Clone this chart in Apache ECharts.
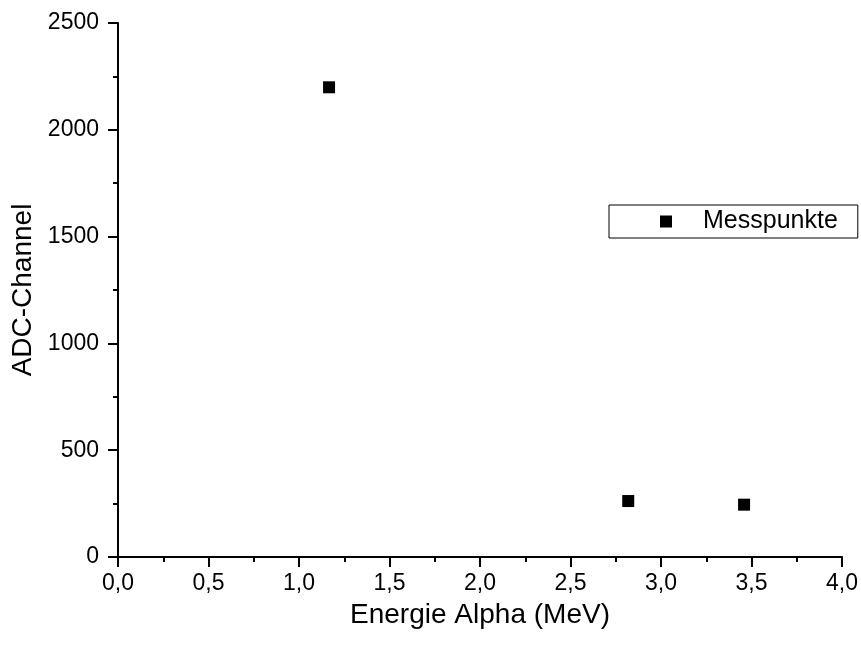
<!DOCTYPE html>
<html>
<head>
<meta charset="utf-8">
<script src="https://cdn.jsdelivr.net/npm/echarts@6/dist/echarts.min.js"></script>
<style>html,body{margin:0;padding:0;background:#fff;}#c{width:861px;height:645px;}</style>
</head>
<body>
<div id="c"></div>
<script>
const seriesName = 'Messpunkte';
const energyMeV = [1.166, 2.819, 3.459];
const adcChannel = [2199, 262, 245];
const xTitle = 'Energie Alpha (MeV)';
const yTitle = 'ADC-Channel';

const font = 'Liberation Sans, Arial, sans-serif';
const chart = echarts.init(document.getElementById('c'), null, {renderer: 'canvas'});
const points = energyMeV.map((x, i) => [x, adcChannel[i]]);

chart.setOption({
  animation: false,
  backgroundColor: '#fff',
  grid: {left: 118, right: 19, top: 23, bottom: 88, containLabel: false},
  legend: {
    data: [seriesName],
    left: 609, top: 205,
    orient: 'horizontal',
    icon: 'rect',
    itemWidth: 12, itemHeight: 12,
    padding: [4, 20, 4, 51],
    borderColor: '#000', borderWidth: 1, borderRadius: 0,
    backgroundColor: '#fff',
    textStyle: {fontFamily: font, fontSize: 25, color: '#000', padding: [0, 0, 0, 26], lineHeight: 23}
  },
  xAxis: {
    type: 'value', min: 0, max: 4, interval: 0.5,
    name: xTitle, nameLocation: 'middle', nameGap: 44,
    nameTextStyle: {fontFamily: font, fontSize: 28, color: '#000'},
    axisLine: {show: true, onZero: false, lineStyle: {color: '#000', width: 2}},
    axisTick: {show: true, length: 10, lineStyle: {color: '#000', width: 2}},
    minorTick: {show: true, splitNumber: 2, length: 5, lineStyle: {color: '#000', width: 2}},
    splitLine: {show: false},
    axisLabel: {fontFamily: font, fontSize: 23, color: '#000', margin: 15,
      formatter: v => v.toFixed(1).replace('.', ',')}
  },
  yAxis: {
    type: 'value', min: 0, max: 2500, interval: 500,
    name: yTitle, nameLocation: 'middle', nameGap: 72,
    nameTextStyle: {fontFamily: font, fontSize: 28, color: '#000'},
    axisLine: {show: true, onZero: false, lineStyle: {color: '#000', width: 2}},
    axisTick: {show: true, length: 10, lineStyle: {color: '#000', width: 2}},
    minorTick: {show: true, splitNumber: 2, length: 5, lineStyle: {color: '#000', width: 2}},
    splitLine: {show: false},
    axisLabel: {fontFamily: font, fontSize: 23, color: '#000', margin: 19,
      formatter: v => String(v)}
  },
  series: [{
    name: seriesName, type: 'scatter', data: points,
    symbol: 'rect', symbolSize: 12,
    itemStyle: {color: '#000', opacity: 1}
  }]
});
</script>
</body>
</html>
